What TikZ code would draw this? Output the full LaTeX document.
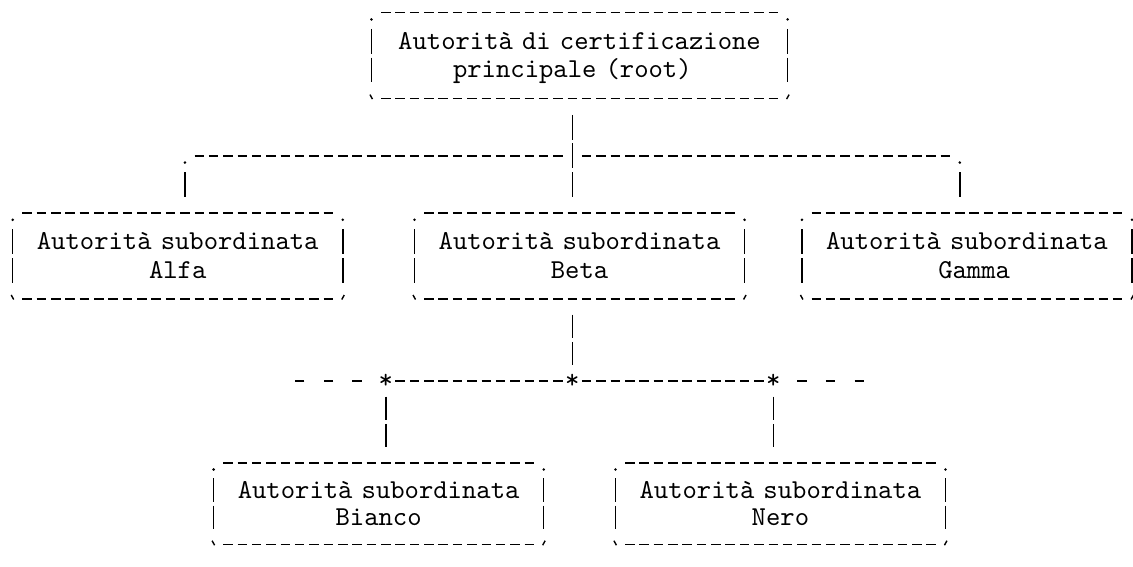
\documentclass[tikz,border=0pt]{standalone}
\usepackage{fontspec}
\newfontfamily\asciifont{lmmono10-regular.otf}
\newcommand\testo{\asciifont\fontsize{27.33pt}{28.63pt}\selectfont}
\newcommand\testobasso{\asciifont\fontsize{27.33pt}{27.3pt}\selectfont}
% cornice "ascii" di una casella: .---.  |  |  `---'
% #1 nodo, #2 stile delle barre, #3 accorciamento delle barre
\newcommand\cornice[3]{%
	\draw[guion] ([xshift=9.6pt]#1.north west) -- ([xshift=-9.6pt]#1.north east);
	\draw[guion] ([xshift=9.6pt]#1.south west) -- ([xshift=-9.6pt]#1.south east);
	\draw[#2] ([yshift=-#3]#1.north west) -- ([yshift=#3]#1.south west);
	\draw[#2] ([yshift=-#3]#1.north east) -- ([yshift=#3]#1.south east);
	\fill ([yshift=-6.7pt]#1.north west) circle (1.4pt);
	\fill ([yshift=-6.7pt]#1.north east) circle (1.4pt);
	\draw[line width=1.4pt] ([xshift=-1.5pt,yshift=4pt]#1.south west) -- ([xshift=1pt,yshift=-0.5pt]#1.south west);
	\draw[line width=1.4pt] ([xshift=1.5pt,yshift=4pt]#1.south east) -- ([xshift=-1pt,yshift=-0.5pt]#1.south east);
}

\begin{document}
\begin{tikzpicture}[x=1pt, y=-1pt,
				caja/.style={font=\testo, inner sep=0pt, outer sep=0pt, align=center, text width=330.05pt, text height=36.63pt, text depth=49.26pt},
				cajabassa/.style={caja, font=\testobasso, text height=35.3pt, text depth=46.6pt},
				guion/.style={line width=1.5pt, dash pattern=on 9.5pt off 4.85pt},
				barra/.style={line width=1.5pt, dash pattern=on 24.73pt off 3.9pt},
				barrabassa/.style={line width=1.5pt, dash pattern=on 23.4pt off 3.9pt},
				rado/.style={line width=1.5pt, dash pattern=on 9.5pt off 19.2pt},
				stella/.style={font=\testo, inner sep=0pt, anchor=base, yshift=-8pt}]
				\useasboundingbox (0,0) rectangle (1133,567);
				\fill[white] (0,0) rectangle (1133,567);
				\node[caja, text width=416.15pt] (radice) at (579.53,55.65) {Autorità di certificazione\\principale (root)\phantom{x}};
				\node[caja] (alfa)   at (177.73,256.06) {Autorità subordinata\\Alfa};
				\node[caja] (beta)   at (579.53,256.06) {Autorità subordinata\\Beta};
				\node[caja] (gamma)  at (966.98,256.06) {Autorità subordinata\\\phantom{x}Gamma};
				\node[cajabassa] (bianco) at (378.63,503.75) {Autorità subordinata\\Bianco};
				\node[cajabassa] (nero)   at (780.43,503.75) {Autorità subordinata\\Nero};
				\foreach \n in {radice,alfa,beta,gamma}
					\cornice{\n}{barra}{16.27pt};
				\foreach \n in {bianco,nero}
					\cornice{\n}{barrabassa}{15.6pt};
				\coordinate (giunto) at (572.35,155.85);
				\coordinate (sx)     at (184.9,155.85);
				\coordinate (dx)     at (959.8,155.85);
				\coordinate (j1)     at (385.8,380.9);
				\coordinate (j2)     at (572.35,380.9);
				\coordinate (j3)     at (773.25,380.9);
				\coordinate (finsx)  at (295,380.9);
				\coordinate (findx)  at (864.1,380.9);
				% primo livello
				\draw[barra, shorten <=16.27pt, shorten >=16.27pt] (radice.south -| giunto) -- (beta.north -| giunto);
				\draw[guion, shorten <=9.6pt, shorten >=9.6pt] (sx) -- (giunto);
				\draw[guion, shorten <=9.6pt, shorten >=9.6pt] (giunto) -- (dx);
				\fill (sx) ++(0,6.7) circle (1.4pt);
				\fill (dx) ++(0,6.7) circle (1.4pt);
				\draw[barra, shorten <=16.27pt, shorten >=16.27pt] (sx) -- (alfa.north -| sx);
				\draw[barra, shorten <=16.27pt, shorten >=16.27pt] (dx) -- (gamma.north -| dx);
				% secondo livello
				\draw[barrabassa, shorten <=15.6pt, shorten >=15.6pt] (beta.south -| j2) -- (j2);
				\draw[guion, shorten <=9.6pt, shorten >=9.6pt] (j1) -- (j2);
				\draw[guion, shorten <=9.6pt, shorten >=9.6pt] (j2) -- (j3);
				\draw[rado, shorten <=23.95pt] (j1) -- (finsx);
				\draw[rado, shorten <=23.95pt] (j3) -- (findx);
				\draw[barrabassa, shorten <=15.6pt, shorten >=15.6pt] (j1) -- (bianco.north -| j1);
				\draw[barrabassa, shorten <=15.6pt, shorten >=15.6pt] (j3) -- (nero.north -| j3);
				\node[stella] (st1) at (j1) {*};
				\node[stella] (st2) at (j2) {*};
				\node[stella] (st3) at (j3) {*};
			\end{tikzpicture}
\end{document}
